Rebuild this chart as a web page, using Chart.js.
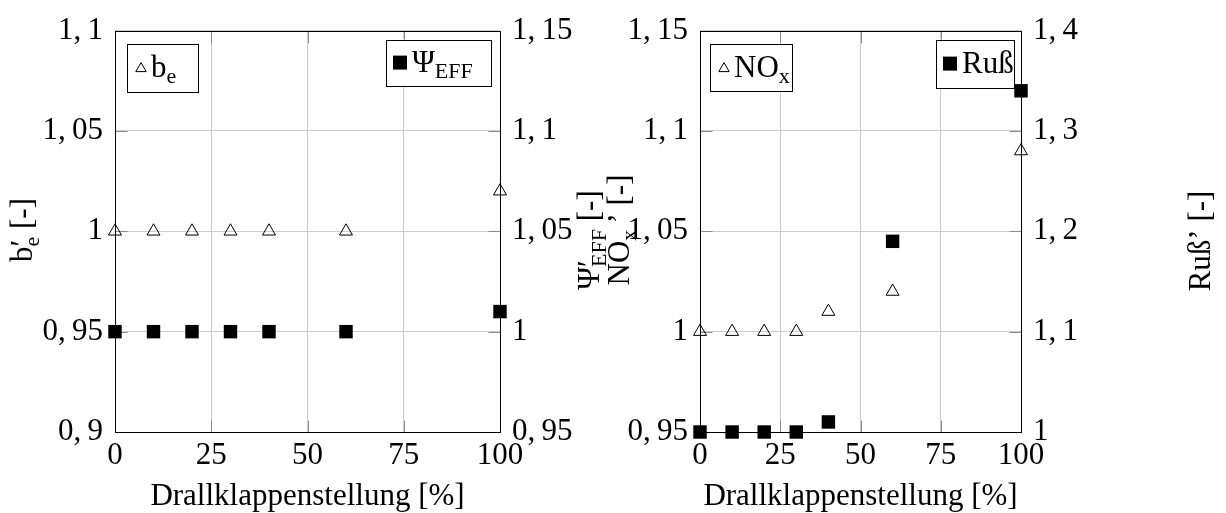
<!DOCTYPE html>
<html>
<head>
<meta charset="utf-8">
<script src="https://cdn.jsdelivr.net/npm/chart.js@4.4.1/dist/chart.umd.min.js"></script>
<style>
  html, body { margin: 0; padding: 0; background: #fff; }
  #wrap { position: relative; width: 1226px; height: 513px; }
  #wrap canvas { position: absolute; left: 0; top: 0; }
</style>
</head>
<body>
<div id="wrap">
  <canvas id="chartLeft" width="1226" height="513"></canvas>
  <canvas id="chartRight" width="1226" height="513"></canvas>
</div>
<script>
// Drallklappenstellung [%]
const drallklappe = [0, 10, 20, 30, 40, 60, 100];
// left plot
const be = [1, 1, 1, 1, 1, 1, 1.02];
const psiEff = [1, 1, 1, 1, 1, 1, 1.01];
// right plot
const nox = [1, 1, 1, 1, 1.01, 1.02, 1.09];
const russ = [1, 1, 1, 1, 1.01, 1.19, 1.34];

// tick labels
const xTicks = [0, 25, 50, 75, 100];
const beTicks = [0.9, 0.95, 1, 1.05, 1.1];
const psiTicks = [0.95, 1, 1.05, 1.1, 1.15];
const noxTicks = [0.95, 1, 1.05, 1.1, 1.15];
const russTicks = [1, 1.1, 1.2, 1.3, 1.4];

const FONT = '"Liberation Serif", "Times New Roman", serif';
const FS = 31;

function fmt(v) {
  return String(+v.toFixed(2)).replace('.', ',\u2009');
}

function points(ys) {
  return drallklappe.map((x, i) => ({ x: x, y: ys[i] }));
}

// text with sub/superscripts: {t} normal, {sub} subscript, {sup, sub} stacked
function richRuns(ctx, parts, fs) {
  const runs = [];
  let x = 0;
  const small = Math.round(fs * 0.7);
  for (const p of parts) {
    if (p.t !== undefined) {
      ctx.font = fs + 'px ' + FONT;
      runs.push({ t: p.t, x: x, dy: 0, f: ctx.font });
      x += ctx.measureText(p.t).width;
    } else {
      let w = 0;
      if (p.sup) {
        ctx.font = fs + 'px ' + FONT;
        runs.push({ t: p.sup, x: x, dy: 0, f: ctx.font });
        w = ctx.measureText(p.sup).width;
      }
      if (p.sub) {
        ctx.font = small + 'px ' + FONT;
        runs.push({ t: p.sub, x: x, dy: fs * 0.22, f: ctx.font });
        w = Math.max(w, ctx.measureText(p.sub).width);
      }
      x += w;
    }
  }
  return { runs: runs, width: x };
}

function drawRich(ctx, parts, x, y, fs, align) {
  const L = richRuns(ctx, parts, fs);
  const x0 = align === 'center' ? x - L.width / 2 : x;
  ctx.textBaseline = 'alphabetic';
  ctx.textAlign = 'left';
  ctx.fillStyle = '#000';
  for (const r of L.runs) {
    ctx.font = r.f;
    ctx.fillText(r.t, x0 + r.x, y + r.dy);
  }
}

function drawMarker(ctx, kind, x, y, r) {
  ctx.beginPath();
  if (kind === 'tri') {
    let a = 0;
    ctx.moveTo(x + Math.sin(a) * r, y - Math.cos(a) * r);
    a += 2 * Math.PI / 3;
    ctx.lineTo(x + Math.sin(a) * r, y - Math.cos(a) * r);
    a += 2 * Math.PI / 3;
    ctx.lineTo(x + Math.sin(a) * r, y - Math.cos(a) * r);
    ctx.closePath();
    ctx.strokeStyle = '#000';
    ctx.lineWidth = 1;
    ctx.stroke();
  } else {
    ctx.fillStyle = '#000';
    ctx.fillRect(x - r, y - r, 2 * r, 2 * r);
  }
}

// frame, inner ticks, legends and axis titles
const decoPlugin = {
  id: 'deco',
  beforeDatasetsDraw(chart) {
    const ctx = chart.ctx;
    const ca = chart.chartArea;
    const L = Math.round(ca.left) + 0.5, R = Math.round(ca.right) + 0.5;
    const T = Math.round(ca.top) + 0.5, B = Math.round(ca.bottom) + 0.5;
    ctx.save();
    ctx.strokeStyle = '#8a8a8a';
    ctx.lineWidth = 1;
    ctx.beginPath();
    chart.scales.yL.ticks.forEach(t => {
      const y = Math.round(chart.scales.yL.getPixelForValue(t.value)) + 0.5;
      ctx.moveTo(L, y); ctx.lineTo(L + 12, y);
      ctx.moveTo(R, y); ctx.lineTo(R - 12, y);
    });
    chart.scales.x.ticks.forEach(t => {
      const x = Math.round(chart.scales.x.getPixelForValue(t.value)) + 0.5;
      ctx.moveTo(x, B); ctx.lineTo(x, B - 12);
      ctx.moveTo(x, T); ctx.lineTo(x, T + 12);
    });
    ctx.stroke();
    ctx.strokeStyle = '#000';
    ctx.strokeRect(L, T, R - L, B - T);
    ctx.restore();
  },
  afterDatasetsDraw(chart, args, opts) {
    const ctx = chart.ctx;
    const ca = chart.chartArea;
    ctx.save();
    (opts.legends || []).forEach(lg => {
      const bx = lg.anchor === 'left' ? ca.left + lg.dx : ca.right - lg.dx - lg.w;
      const by = ca.top + lg.dy;
      ctx.fillStyle = '#fff';
      ctx.fillRect(bx, by, lg.w, lg.h);
      ctx.strokeStyle = '#000';
      ctx.lineWidth = 1;
      ctx.strokeRect(Math.round(bx) + 0.5, Math.round(by) + 0.5, lg.w, lg.h);
      drawMarker(ctx, lg.marker, bx + lg.mx, by + lg.my, lg.mr);
      drawRich(ctx, lg.parts, bx + lg.tx, by + lg.ty, FS, 'left');
    });
    (opts.titles || []).forEach(tt => {
      const x = tt.anchor === 'left' ? ca.left + tt.dx : ca.right + tt.dx;
      ctx.save();
      ctx.translate(x, tt.cy);
      ctx.rotate(-Math.PI / 2);
      drawRich(ctx, tt.parts, 0, 0, FS, 'center');
      ctx.restore();
    });
    drawRich(ctx, [{ t: 'Drallklappenstellung [%]' }], (ca.left + ca.right) / 2, ca.bottom + 73, FS, 'center');
    ctx.restore();
  }
};

function makeChart(id, cfg) {
  const tickFont = { family: FONT, size: FS };
  return new Chart(document.getElementById(id), {
    type: 'scatter',
    data: {
      datasets: [
        {
          data: points(cfg.triData),
          yAxisID: cfg.triAxis,
          pointStyle: 'triangle',
          radius: 7.5,
          borderColor: '#000',
          borderWidth: 1,
          backgroundColor: 'rgba(0,0,0,0)',
          clip: false
        },
        {
          data: points(cfg.sqData),
          yAxisID: cfg.sqAxis,
          pointStyle: 'rect',
          radius: 9.5,
          borderWidth: 0,
          backgroundColor: '#000',
          clip: false
        }
      ]
    },
    options: {
      responsive: false,
      animation: false,
      events: [],
      layout: { padding: { top: 24, left: 0, right: 0, bottom: 0 } },
      scales: {
        x: {
          type: 'linear',
          min: 0,
          max: 100,
          afterBuildTicks: s => { s.ticks = xTicks.map(v => ({ value: v })); },
          afterFit: s => { s.height = 81; },
          grid: { color: '#cccccc', drawTicks: false },
          border: { display: false },
          ticks: { font: tickFont, color: '#000', padding: 5, maxRotation: 0, autoSkip: false }
        },
        yL: {
          position: 'left',
          min: cfg.leftTicks[0],
          max: cfg.leftTicks[cfg.leftTicks.length - 1],
          afterBuildTicks: s => { s.ticks = cfg.leftTicks.map(v => ({ value: v })); },
          afterFit: s => { s.width = cfg.leftW; },
          grid: { color: '#cccccc', drawTicks: false },
          border: { display: false },
          ticks: { font: tickFont, color: '#000', padding: 12, callback: v => fmt(v) }
        },
        yR: {
          position: 'right',
          min: cfg.rightTicks[0],
          max: cfg.rightTicks[cfg.rightTicks.length - 1],
          afterBuildTicks: s => { s.ticks = cfg.rightTicks.map(v => ({ value: v })); },
          afterFit: s => { s.width = cfg.rightW; },
          grid: { display: false, drawTicks: false },
          border: { display: false },
          ticks: { font: tickFont, color: '#000', padding: 12, callback: v => fmt(v) }
        }
      },
      plugins: {
        legend: { display: false },
        tooltip: { enabled: false },
        deco: { legends: cfg.legends, titles: cfg.titles }
      }
    },
    plugins: [decoPlugin]
  });
}

makeChart('chartLeft', {
  triData: be, triAxis: 'yL',
  sqData: psiEff, sqAxis: 'yR',
  leftTicks: beTicks, rightTicks: psiTicks,
  leftW: 115, rightW: 726,
  legends: [
    { anchor: 'left', dx: 12, dy: 13, w: 71, h: 48, marker: 'tri', mx: 14, my: 25, mr: 6, tx: 24, ty: 33,
      parts: [{ t: 'b' }, { sub: 'e' }] },
    { anchor: 'right', dx: 9, dy: 9, w: 105, h: 46, marker: 'sq', mx: 14, my: 23, mr: 7, tx: 26, ty: 32,
      parts: [{ t: '\u03A8' }, { sub: 'EFF' }] }
  ],
  titles: [
    { anchor: 'left', dx: -83, cy: 230, parts: [{ t: 'b' }, { sup: '\u2032', sub: 'e' }, { t: ' [-]' }] },
    { anchor: 'right', dx: 99, cy: 240, parts: [{ t: '\u03A8' }, { sup: '\u2032', sub: 'EFF' }, { t: ' [-]' }] }
  ]
});

makeChart('chartRight', {
  triData: nox, triAxis: 'yL',
  sqData: russ, sqAxis: 'yR',
  leftTicks: noxTicks, rightTicks: russTicks,
  leftW: 700, rightW: 205,
  legends: [
    { anchor: 'left', dx: 10, dy: 13, w: 82, h: 47, marker: 'tri', mx: 14, my: 25, mr: 6, tx: 24, ty: 33,
      parts: [{ t: 'NO' }, { sub: 'x' }] },
    { anchor: 'right', dx: 7, dy: 9, w: 78, h: 48, marker: 'sq', mx: 14, my: 24, mr: 7, tx: 26, ty: 33,
      parts: [{ t: 'Ru\u00DF' }] }
  ],
  titles: [
    { anchor: 'left', dx: -71, cy: 230, parts: [{ t: 'NO' }, { sub: 'x' }, { t: '\u2009\u2019 [-]' }] },
    { anchor: 'right', dx: 189, cy: 241, parts: [{ t: 'Ru\u00DF\u2019 [-]' }] }
  ]
});
</script>
</body>
</html>
